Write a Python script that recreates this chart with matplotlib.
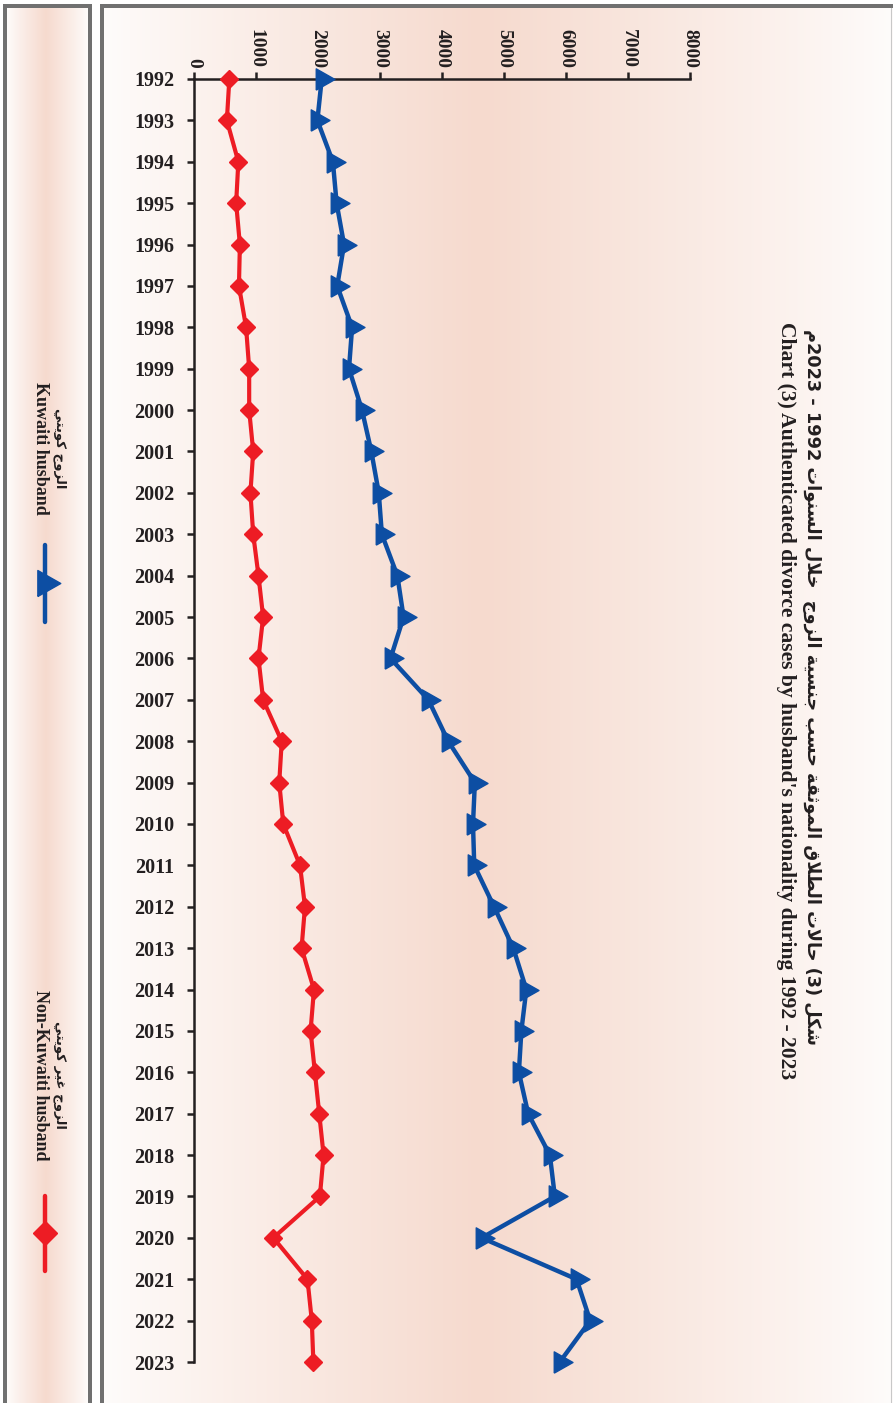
import re
import numpy as np
import matplotlib
matplotlib.use("Agg")
import matplotlib.pyplot as plt

years = list(range(1992, 2024))
kuwaiti = [2060, 1990, 2240, 2300, 2420, 2310, 2550, 2500, 2710, 2860, 2980, 3030,
           3280, 3380, 3170, 3780, 4100, 4530, 4500, 4520, 4840, 5150, 5360, 5280,
           5240, 5390, 5740, 5820, 4640, 6170, 6390, 5900]
non_kuwaiti = [570, 530, 715, 680, 740, 725, 840, 890, 890, 955, 910, 955,
               1040, 1115, 1040, 1115, 1415, 1375, 1440, 1710, 1790, 1735, 1935, 1880,
               1950, 2020, 2090, 2030, 1280, 1830, 1900, 1925]
value_ticks = [0, 1000, 2000, 3000, 4000, 5000, 6000, 7000, 8000]

title_ar = "شكل (3) حالات الطلاق الموثقة حسب جنسية الزوج  خلال السنوات 1992 - 2023م"
title_en = "Chart (3) Authenticated divorce cases by husband's nationality during 1992 - 2023"
label_kw_ar = "الزوج كويتي"
label_kw_en = "Kuwaiti husband"
label_nk_ar = "الزوج غير كويتي"
label_nk_en = "Non-Kuwaiti husband"

BLUE = "#0d4ea3"
RED = "#ed1c24"
INK = "#231f20"
FRAME = "#707070"
PINK = np.array([246, 218, 206]) / 255
WHITE = np.array([254, 252, 251]) / 255

# minimal arabic shaping (presentation forms) + visual ordering
AR_FORMS = {
    'ا': (0xFE8D, 2), 'ب': (0xFE8F, 4), 'ة': (0xFE93, 2), 'ت': (0xFE95, 4), 'ث': (0xFE99, 4),
    'ج': (0xFE9D, 4), 'ح': (0xFEA1, 4), 'خ': (0xFEA5, 4), 'د': (0xFEA9, 2), 'ذ': (0xFEAB, 2),
    'ر': (0xFEAD, 2), 'ز': (0xFEAF, 2), 'س': (0xFEB1, 4), 'ش': (0xFEB5, 4), 'ط': (0xFEC1, 4),
    'غ': (0xFECD, 4), 'ق': (0xFED5, 4), 'ك': (0xFED9, 4), 'ل': (0xFEDD, 4), 'م': (0xFEE1, 4),
    'ن': (0xFEE5, 4), 'و': (0xFEED, 2), 'ي': (0xFEF1, 4),
}


def shape(s):
    out = []
    i = 0
    while i < len(s):
        c = s[i]
        if c not in AR_FORMS:
            out.append(c)
            i += 1
            continue
        prev = s[i - 1] if i > 0 else ''
        joins_prev = prev in AR_FORMS and AR_FORMS[prev][1] == 4
        if c == 'ل' and i + 1 < len(s) and s[i + 1] == 'ا':
            out.append(chr(0xFEFC if joins_prev else 0xFEFB))
            i += 2
            continue
        base, nf = AR_FORMS[c]
        nxt = s[i + 1] if i + 1 < len(s) else ''
        joins_next = nf == 4 and nxt in AR_FORMS
        if joins_prev and joins_next:
            k = 3
        elif joins_prev:
            k = 1
        elif joins_next:
            k = 2
        else:
            k = 0
        out.append(chr(base + k))
        i += 1
    return ''.join(out)


def rtl(s):
    v = shape(s)[::-1]
    v = re.sub(r'[0-9]+', lambda m: m.group(0)[::-1], v)
    return v.translate(str.maketrans('()', ')('))


SERIF = ['Liberation Serif', 'DejaVu Sans']
ARFONT = ['DejaVu Sans', 'Liberation Serif']

W, H = 893, 1403
fig = plt.figure(figsize=(W / 100, H / 100), dpi=100)
fig.patch.set_facecolor('white')

# background panels (pixel coordinates)
bg = fig.add_axes([0, 0, 1, 1], zorder=0)
bg.set_xlim(0, W)
bg.set_ylim(H, 0)
bg.axis('off')


def gradient(x0, x1, xpeak):
    xs = np.linspace(x0, x1, 500)
    t = np.where(xs < xpeak, (xs - x0) / (xpeak - x0), (x1 - xs) / (x1 - xpeak))
    t = np.clip(t, 0, 1) ** 0.9
    cols = WHITE[None, :] * (1 - t[:, None]) + PINK[None, :] * t[:, None]
    return cols[None, :, :]


bg.imshow(gradient(7, 88, 46), extent=[7, 88, H, 8], aspect='auto', zorder=0)
bg.imshow(gradient(104, 893, 480), extent=[104, 893, H, 8], aspect='auto', zorder=0)
for x0, x1, y0, y1 in [(3, 7, 4, H), (88, 92, 4, H), (3, 92, 4, 8),
                       (100, 104, 4, H), (100, W, 4, 8)]:
    bg.add_patch(plt.Rectangle((x0, y0), x1 - x0, y1 - y0, color=FRAME, lw=0, zorder=1))
bg.plot([891, 891], [8, H], color='#c8c8c8', lw=0.8, zorder=1)

tri = [(-1, -1.7), (-1, 1.7), (2, 0), (-1, -1.7)]

# legend (rotated layout)
bg.plot([45, 45], [545, 622], color=BLUE, lw=3.2, solid_capstyle='round', zorder=2)
bg.plot([45], [583], marker=tri, ms=22, color=BLUE, zorder=3)
bg.text(40, 448, label_kw_en, rotation=-90, ha='center', va='center',
        fontsize=13, fontweight='bold', family=SERIF, color=INK)
bg.text(60, 448, rtl(label_kw_ar), rotation=-90, ha='center', va='center',
        fontsize=9.5, fontweight='bold', family=ARFONT, color=INK)
bg.plot([45, 45], [1196, 1271], color=RED, lw=3.2, solid_capstyle='round', zorder=2)
bg.plot([45], [1233], marker='D', ms=12, color=RED, zorder=3)
bg.text(40, 1075, label_nk_en, rotation=-90, ha='center', va='center',
        fontsize=13, fontweight='bold', family=SERIF, color=INK)
bg.text(60, 1075, rtl(label_nk_ar), rotation=-90, ha='center', va='center',
        fontsize=9.5, fontweight='bold', family=ARFONT, color=INK)

# titles
bg.text(786, 701, title_en, rotation=-90, ha='center', va='center',
        fontsize=15.6, fontweight='bold', family=SERIF, color=INK)
bg.text(811, 687, rtl(title_ar), rotation=-90, ha='center', va='center',
        fontsize=12.8, fontweight='bold', family=ARFONT, color=INK)

# main chart
x_left, x_right = 194, 690
y_top, y_bot = 79, 1362
ax = fig.add_axes([x_left / W, 1 - y_bot / H, (x_right - x_left) / W, (y_bot - y_top) / H], zorder=2)
ax.set_facecolor('none')

ax.plot(non_kuwaiti, years, color=RED, lw=3.0, marker='D', ms=9.5,
        clip_on=False, zorder=3)
ax.plot(kuwaiti, years, color=BLUE, lw=3.2, marker=tri, ms=18,
        clip_on=False, zorder=4)

ax.set_xlim(0, 8000)
ax.set_ylim(2023, 1992)
ax.set_xticks(value_ticks)
ax.set_xticklabels([str(v) for v in value_ticks])
ax.set_yticks(years)
ax.set_yticklabels([str(y) for y in years])
ax.xaxis.tick_top()
ax.tick_params(axis='x', direction='out', length=5, width=1.8, color=INK, pad=3,
               labelrotation=-90, labelsize=14, labelcolor=INK)
ax.tick_params(axis='y', direction='out', length=5, width=1.8, color=INK, pad=9,
               labelsize=14.5, labelcolor=INK)
for lab in ax.get_xticklabels() + ax.get_yticklabels():
    lab.set_family(SERIF)
    lab.set_fontweight('bold')

for side in ['right', 'bottom']:
    ax.spines[side].set_visible(False)
for side in ['top', 'left']:
    ax.spines[side].set_linewidth(1.8)
    ax.spines[side].set_color(INK)

fig.savefig('out.png', dpi=100)
